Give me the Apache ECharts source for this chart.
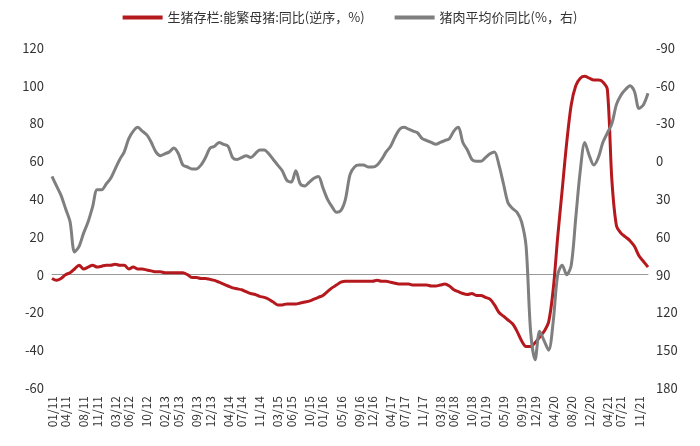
<!DOCTYPE html>
<html><head><meta charset="utf-8">
<script src="https://cdn.jsdelivr.net/npm/echarts@6/dist/echarts.min.js"></script>
<style>html,body{margin:0;padding:0;background:#fff}#c{width:700px;height:446px}</style>
</head><body><div id="c"></div>
<script>
const tickLabels=['01/11','04/11','08/11','11/11','03/12','06/12','10/12','02/13','05/13','09/13','12/13','04/14','07/14','11/14','03/15','06/15','10/15','01/16','05/16','09/16','12/16','04/17','07/17','11/17','03/18','06/18','10/18','01/19','05/19','09/19','12/19','04/20','08/20','12/20','04/21','07/21','11/21'];
const months=[];
for(let y=11;y<=22;y++)for(let m=1;m<=12;m++){if(y===22&&m>1)break;months.push(String(m).padStart(2,'0')+'/'+y);}
const sowInv=[-2,-3,-2,0,1,3,5,3,4,5,4,4.5,
5,5,5.5,5,5,3,4,3,3,2.5,2,1.5,
1.5,1,1,1,1,1,0,-1.5,-1.5,-2,-2,-2.5,
-3,-4,-5,-6,-7,-7.5,-8,-9,-10,-10.5,-11.5,-12,
-13,-14.5,-16,-16,-15.5,-15.5,-15.5,-15,-14.5,-14,-13,-12,
-11,-9,-7,-5.5,-4,-3.5,-3.5,-3.5,-3.5,-3.5,-3.5,-3.5,
-3,-3.5,-3.5,-4,-4.5,-5,-5,-5,-5.5,-5.5,-5.5,-5.5,
-6,-6,-5.5,-5,-6,-8,-9,-10,-10.5,-10,-11,-11,
-12,-13,-16,-20,-22,-24,-26,-30,-35,-38,-38,-36,
-33,-30,-25,-8,20,45,70,90,100,104,105,104,
103,103,102,98,50,26,22,20,18,15,10,7,4];
const porkPrice=[12,19.5,27,37.5,48,72,67.5,57,48,36,22.5,22.5,
18,13.5,6,-1.5,-7.5,-18,-24,-27,-24,-21,-15,-7.5,
-4.5,-6,-7.5,-10.5,-6,3,4.5,6,6,3,-3,-10.5,
-12,-15,-13.5,-12,-3,-1.5,-3,-4.5,-3,-6,-9,-9,
-6,-1.5,3,7.5,15,16.5,7.5,18,19.5,16.5,13.5,12,
21,30,36,40.5,39,30,10.5,4.5,3,3,4.5,4.5,
3,-1.5,-7.5,-12,-19.5,-25.5,-27,-25.5,-24,-22.5,-18,-16.5,
-15,-13.5,-15,-16.5,-18,-24,-27,-15,-9,-1.5,0,0,
-3,-6,-7.5,3,18,33,37.5,40.5,48,67.5,135,157.5,
135,142.5,150,127.5,90,82.5,90,82.5,45,7.5,-15,-4.5,
3,-3,-15,-22.5,-30,-45,-52.5,-57,-60,-55.5,-42,-45,-54];
const ch=echarts.init(document.getElementById('c'));
const ff='"Noto Sans CJK SC", "Noto Sans", sans-serif';
ch.setOption({
animation:false,
textStyle:{fontFamily:ff},
legend:{top:6,left:'center',itemGap:30,itemWidth:40,itemHeight:4,textStyle:{fontSize:13,color:'#333',fontFamily:ff},
 data:[{name:'生猪存栏:能繁母猪:同比(逆序，%)',icon:'rect'},{name:'猪肉平均价同比(%，右)',icon:'rect'}]},
grid:{left:52,right:52,top:48,bottom:58},
xAxis:{type:'category',data:months,boundaryGap:false,
 axisLine:{lineStyle:{color:'#999'}},axisTick:{show:false},
 axisLabel:{rotate:90,fontSize:12,color:'#333',interval:(i,v)=>tickLabels.includes(v)}},
yAxis:[{type:'value',min:-60,max:120,interval:20,splitLine:{show:false},axisLabel:{fontSize:13,color:'#333'}},
 {type:'value',min:-90,max:180,interval:30,inverse:true,splitLine:{show:false},axisLabel:{fontSize:13,color:'#333'}}],
series:[{name:'生猪存栏:能繁母猪:同比(逆序，%)',type:'line',data:sowInv,showSymbol:false,smooth:0.3,lineStyle:{width:3,color:'#b5191d'},itemStyle:{color:'#b5191d'}},
 {name:'猪肉平均价同比(%，右)',type:'line',yAxisIndex:1,data:porkPrice,showSymbol:false,smooth:0.3,lineStyle:{width:3,color:'#7f7f7f'},itemStyle:{color:'#7f7f7f'}}]
});
</script></body></html>
